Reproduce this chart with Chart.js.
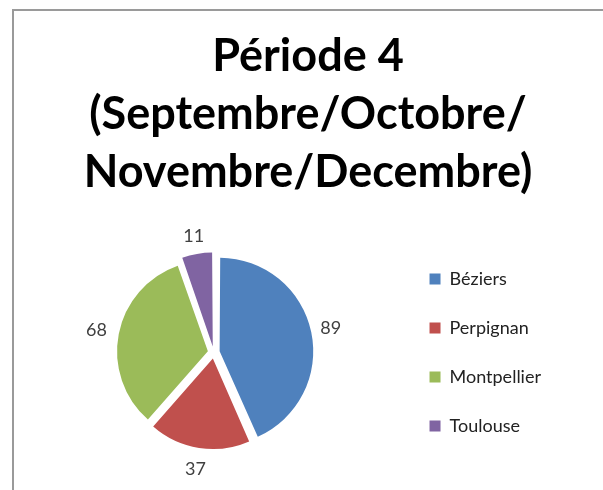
<!DOCTYPE html>
<html>
<head>
<meta charset="utf-8">
<script src="https://cdn.jsdelivr.net/npm/chart.js@4/dist/chart.umd.min.js"></script>
<style>
  html, body { margin: 0; padding: 0; background: #fff; overflow: hidden; width: 603px; height: 490px; }
  #frame { position: absolute; left: 12px; top: 9px; width: 640px; height: 540px; border: 2px solid #9a9a9a; background: #fff; }
  #wrap { position: absolute; left: 14px; top: 11px; width: 589px; height: 479px; }
</style>
</head>
<body>
<div id="frame"></div>
<div id="wrap"><canvas id="c"></canvas></div>
<script>
const titleLines = ["Période 4", "(Septembre/Octobre/", "Novembre/Decembre)"];
const cities = ["Béziers", "Perpignan", "Montpellier", "Toulouse"];
const counts = [89, 37, 68, 11];
const sliceColors = ["#4F81BD", "#C0504D", "#9BBB59", "#8064A2"];

// Draws the value of each slice just outside its arc
const outsideLabels = {
  id: 'outsideLabels',
  afterDatasetsDraw(chart) {
    const ctx = chart.ctx;
    const meta = chart.getDatasetMeta(0);
    const data = chart.data.datasets[0].data;
    ctx.save();
    ctx.font = '18px Lato, "Open Sans", sans-serif';
    ctx.fillStyle = '#404040';
    ctx.textAlign = 'center';
    ctx.textBaseline = 'middle';
    meta.data.forEach((arc, i) => {
      const p = arc.getProps(['x', 'y', 'startAngle', 'endAngle', 'outerRadius'], true);
      const off = (arc.options.offset || 0) / 4;
      const mid = (p.startAngle + p.endAngle) / 2;
      const dx = Math.cos(mid), dy = Math.sin(mid);
      const txt = String(data[i]);
      const w = ctx.measureText(txt).width;
      const h = 18;
      const r = p.outerRadius + off + 13;
      ctx.fillText(txt, p.x + dx * (r + w / 2), p.y + dy * (r + h / 2));
    });
    ctx.restore();
  }
};

// Leaves a gap between the plot and the legend, as in the original layout
const legendGap = {
  id: 'legendGap',
  afterLayout(chart, args, opts) {
    const g = opts.gap || 0;
    chart.chartArea.right -= g;
    chart.chartArea.width -= g;
  }
};

new Chart(document.getElementById('c'), {
  type: 'pie',
  data: {
    labels: cities,
    datasets: [{
      data: counts,
      backgroundColor: sliceColors,
      borderWidth: 0,
      offset: 24
    }]
  },
  plugins: [outsideLabels, legendGap],
  options: {
    responsive: true,
    maintainAspectRatio: false,
    animation: false,
    events: [],
    radius: 90,
    layout: { padding: { left: 51, right: 52, top: 0, bottom: 0 } },
    plugins: {
      legendGap: { gap: 36 },
      tooltip: { enabled: false },
      title: {
        display: true,
        text: titleLines,
        color: '#000',
        font: { family: 'Lato, "Open Sans", sans-serif', size: 45, weight: 'bold', lineHeight: 1.289 },
        padding: { top: 16, bottom: 14 }
      },
      legend: {
        position: 'right',
        fullSize: false,
        labels: {
          boxWidth: 11,
          boxHeight: 11,
          padding: 31,
          color: '#222',
          font: { family: 'Lato, "Open Sans", sans-serif', size: 18 }
        }
      }
    }
  }
});
</script>
</body>
</html>
